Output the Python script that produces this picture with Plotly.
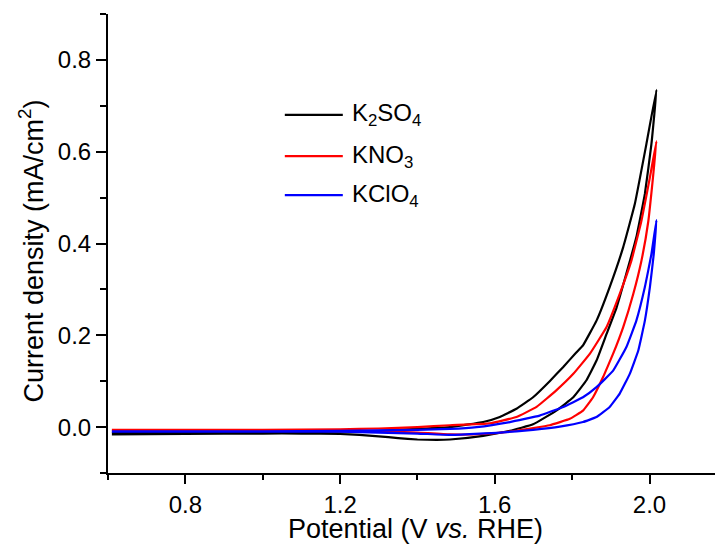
import plotly.graph_objects as go

# ---- data (potential V vs RHE, current density mA/cm2) ----
# each series: forward (anodic) scan then reverse scan, as one closed loop
k2so4_x = [0.61, 0.80, 1.00, 1.20, 1.30, 1.40, 1.484, 1.570, 1.613, 1.656, 1.699, 1.742, 1.777,
           1.810, 1.828, 1.863, 1.897, 1.932, 1.962, 1.992, 2.018,
           2.005, 1.988, 1.966, 1.940, 1.915, 1.889, 1.863, 1.837, 1.803, 1.759, 1.699, 1.639,
           1.570, 1.484, 1.45, 1.40, 1.35, 1.30, 1.25, 1.20, 1.10, 1.00, 0.80, 0.61]
k2so4_y = [-0.013, -0.012, -0.012, -0.010, -0.008, -0.004, 0.000, 0.011, 0.022, 0.040, 0.065, 0.100, 0.131,
           0.162, 0.178, 0.232, 0.305, 0.392, 0.486, 0.617, 0.735,
           0.617, 0.508, 0.414, 0.334, 0.261, 0.203, 0.145, 0.102, 0.065, 0.036, 0.006, -0.008,
           -0.019, -0.027, -0.028, -0.027, -0.024, -0.020, -0.017, -0.015, -0.014, -0.014, -0.015, -0.016]

kno3_x = [0.61, 0.80, 1.00, 1.20, 1.30, 1.40, 1.484, 1.587, 1.656, 1.708, 1.759, 1.803, 1.846,
          1.889, 1.923, 1.953, 1.979, 2.001, 2.018,
          2.009, 1.997, 1.979, 1.958, 1.932, 1.906, 1.880, 1.854, 1.828, 1.794, 1.742, 1.656,
          1.570, 1.484, 1.40, 1.30, 1.20, 1.00, 0.80, 0.61]
kno3_y = [-0.006, -0.006, -0.006, -0.005, -0.003, 0.000, 0.004, 0.008, 0.022, 0.044, 0.080, 0.116, 0.160,
          0.218, 0.290, 0.362, 0.449, 0.544, 0.623,
          0.544, 0.449, 0.362, 0.290, 0.218, 0.160, 0.109, 0.065, 0.036, 0.018, 0.004, -0.008,
          -0.015, -0.016, -0.012, -0.009, -0.007, -0.007, -0.007, -0.007]

kclo4_x = [0.61, 0.80, 1.00, 1.20, 1.40, 1.484, 1.553, 1.639, 1.716, 1.777, 1.828, 1.863, 1.906,
           1.940, 1.966, 1.988, 2.005, 2.018,
           2.011, 2.001, 1.988, 1.971, 1.949, 1.923, 1.897, 1.863, 1.828, 1.768, 1.699, 1.613,
           1.484, 1.40, 1.20, 1.00, 0.80, 0.61]
kclo4_y = [-0.009, -0.009, -0.009, -0.008, -0.006, -0.004, 0.000, 0.011, 0.025, 0.044, 0.065, 0.087, 0.123,
           0.174, 0.232, 0.305, 0.377, 0.451,
           0.377, 0.305, 0.232, 0.167, 0.116, 0.073, 0.044, 0.022, 0.011, 0.001, -0.006, -0.012,
           -0.017, -0.014, -0.010, -0.010, -0.010, -0.010]

series_names = ["K<sub>2</sub>SO<sub>4</sub>", "KNO<sub>3</sub>", "KClO<sub>4</sub>"]
series_colors = ["#000000", "#ff0000", "#0000ff"]
series_x = [k2so4_x, kno3_x, kclo4_x]
series_y = [k2so4_y, kno3_y, kclo4_y]

FONT = "Arial, Liberation Sans, sans-serif"

fig = go.Figure()
for name, col, xs, ys in zip(series_names, series_colors, series_x, series_y):
    fig.add_trace(go.Scatter(x=xs, y=ys, mode="lines", name=name,
                             line=dict(color=col, width=2.2, shape="spline", smoothing=0.3),
                             showlegend=False))

# manual legend (Origin style)
leg_y = [0.7803, 0.6905, 0.6054]
for name, col, yy in zip(series_names, series_colors, leg_y):
    fig.add_shape(type="line", xref="paper", yref="paper", x0=0.2875, x1=0.3818, y0=yy, y1=yy,
                  line=dict(color=col, width=2.2))
    fig.add_annotation(xref="paper", yref="paper", x=0.3931, y=yy, text=name, showarrow=False,
                       xanchor="left", yanchor="middle", font=dict(family=FONT, size=24, color="black"))

# axis titles placed as annotations
fig.add_annotation(xref="paper", yref="paper", x=0.5, y=0, yshift=-56, text="Potential (V <i>vs.</i> RHE)",
                   showarrow=False, xanchor="center", yanchor="middle",
                   font=dict(family=FONT, size=27, color="black"))
fig.add_annotation(xref="paper", yref="paper", x=0, y=0.5, xshift=-77, yshift=-8,
                   text="Current density (mA/cm<sup>2</sup>)", textangle=-90,
                   showarrow=False, xanchor="center", yanchor="middle",
                   font=dict(family=FONT, size=27, color="black"))

axis_common = dict(showline=True, linecolor="black", linewidth=2, ticks="outside", tickwidth=2,
                   tickcolor="black", showgrid=False, zeroline=False, mirror=False, automargin=False,
                   tickfont=dict(family=FONT, size=24, color="black"))

fig.update_xaxes(range=[0.6, 2.19], tick0=0.8, dtick=0.4, ticklen=9, tickformat=".1f",
                 minor=dict(dtick=0.2, tick0=0.6, ticks="outside", ticklen=5, tickwidth=2, tickcolor="black"),
                 **axis_common)
fig.update_yaxes(range=[-0.1, 0.9], tick0=0.0, dtick=0.2, ticklen=10, tickformat=".1f",
                 minor=dict(dtick=0.1, tick0=0.0, ticks="outside", ticklen=6, tickwidth=2, tickcolor="black"),
                 **axis_common)

fig.update_layout(width=715, height=541, margin=dict(l=100, r=0, t=6, b=76),
                  paper_bgcolor="white", plot_bgcolor="white", font=dict(family=FONT))

fig.write_html("out.html")
